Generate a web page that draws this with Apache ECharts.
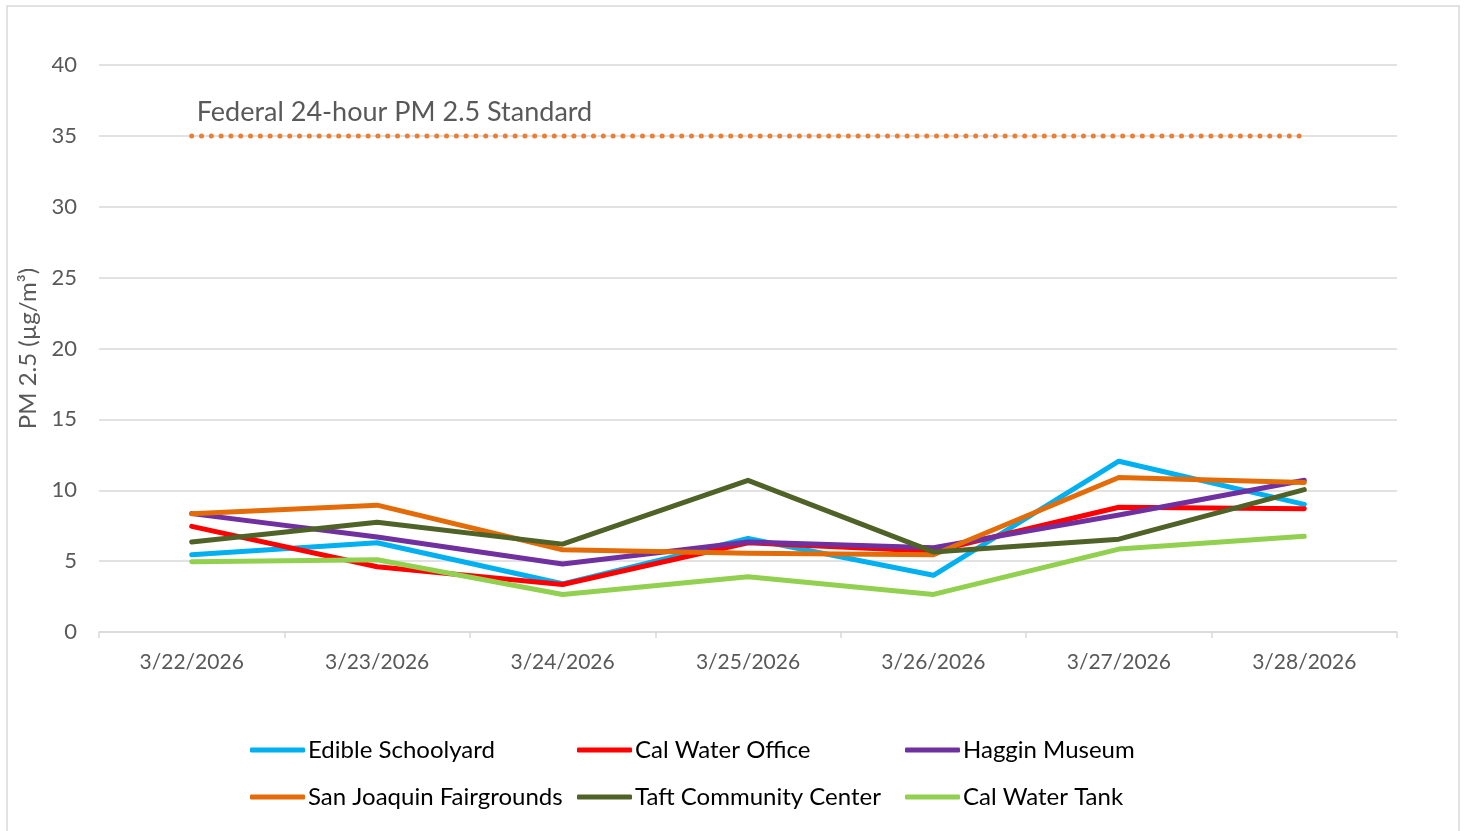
<!DOCTYPE html>
<html>
<head>
<meta charset="utf-8">
<title>PM 2.5</title>
<script src="https://cdn.jsdelivr.net/npm/echarts@6/dist/echarts.min.js"></script>
<style>
  html, body { margin: 0; padding: 0; background: #fff; }
  #chart { width: 1465px; height: 831px; }
</style>
</head>
<body>
<div id="chart"></div>
<script>
/* Daily PM 2.5 readings per monitoring site, with the federal 24h standard. */
const days = ['3/22/2026', '3/23/2026', '3/24/2026', '3/25/2026', '3/26/2026', '3/27/2026', '3/28/2026'];

const edibleSchoolyard = [5.45, 6.3, 3.4, 6.6, 4.0, 12.05, 9.0];
const calWaterOffice   = [7.45, 4.6, 3.35, 6.3, 5.7, 8.8, 8.7];
const hagginMuseum     = [8.35, 6.7, 4.8, 6.35, 5.95, 8.25, 10.7];
const sjFairgrounds    = [8.35, 8.95, 5.8, 5.55, 5.45, 10.9, 10.55];
const taftCommunity    = [6.35, 7.75, 6.2, 10.7, 5.65, 6.55, 10.05];
const calWaterTank     = [4.95, 5.1, 2.65, 3.9, 2.65, 5.85, 6.75];
const federalStandard  = [35, 35, 35, 35, 35, 35, 35];

const FONT = 'Lato, "Open Sans", sans-serif';
const grey = '#595959';
const chart = echarts.init(document.getElementById('chart'));

const siteLine = (name, data, color) => ({
  name, type: 'line', data, symbol: 'none', color,
  lineStyle: { width: 5, color, cap: 'round', join: 'round' },
});

const stdData = federalStandard.map((v, i) => i === 0
  ? { value: v, label: { show: true, formatter: 'Federal 24-hour PM 2.5 Standard' } }
  : v);

const legendBase = {
  orient: 'vertical', top: 737, padding: 0, itemGap: 21, itemWidth: 55, itemHeight: 5,
  icon: 'roundRect',
  textStyle: { fontFamily: FONT, fontSize: 24, color: '#000', lineHeight: 26, padding: [0, 0, 0, -2] },
};

chart.setOption({
  animation: false,
  textStyle: { fontFamily: FONT },
  graphic: [{
    type: 'rect', silent: true,
    shape: { x: 7, y: 6, width: 1452, height: 840 },
    style: { fill: 'none', stroke: '#d9d9d9', lineWidth: 1.5 },
  }],
  grid: { left: 99, right: 68, top: 65, bottom: 199 },
  legend: [
    Object.assign({ left: 250, data: ['Edible Schoolyard', 'San Joaquin Fairgrounds'] }, legendBase),
    Object.assign({ left: 577, data: ['Cal Water Office', 'Taft Community Center'] }, legendBase),
    Object.assign({ left: 905, data: ['Haggin Museum', 'Cal Water Tank'] }, legendBase),
  ],
  xAxis: {
    type: 'category', data: days, boundaryGap: true,
    axisLine: { lineStyle: { color: '#d9d9d9', width: 1.5 } },
    axisTick: { show: true, length: 6, lineStyle: { color: '#d9d9d9', width: 1.5 } },
    axisLabel: { color: grey, fontSize: 21, fontFamily: FONT, margin: 20 },
  },
  yAxis: {
    type: 'value', min: 0, max: 40, interval: 5,
    name: 'PM 2.5 (µg/m³)', nameLocation: 'middle', nameGap: 58,
    nameTextStyle: { color: grey, fontSize: 24, fontFamily: FONT },
    axisLine: { show: false }, axisTick: { show: false },
    axisLabel: { color: grey, fontSize: 22, fontFamily: FONT, margin: 22 },
    splitLine: { lineStyle: { color: '#d9d9d9', width: 1.5 } },
  },
  series: [
    siteLine('Edible Schoolyard', edibleSchoolyard, '#00b0f0'),
    siteLine('Cal Water Office', calWaterOffice, '#ff0000'),
    siteLine('Haggin Museum', hagginMuseum, '#7030a0'),
    siteLine('San Joaquin Fairgrounds', sjFairgrounds, '#e36c09'),
    siteLine('Taft Community Center', taftCommunity, '#4f6228'),
    siteLine('Cal Water Tank', calWaterTank, '#92d050'),
    {
      name: 'Federal 24-hour PM 2.5 Standard', type: 'line', data: stdData,
      symbol: 'circle', symbolSize: 0, showSymbol: true, silent: true,
      lineStyle: { width: 5, color: '#ed7d31', type: [0, 9.8], cap: 'round' },
      label: {
        show: false, position: 'top', align: 'left', distance: 10, offset: [5, 0],
        color: grey, fontSize: 27, fontFamily: FONT,
      },
    },
  ],
});
window.addEventListener('resize', () => chart.resize());
</script>
</body>
</html>
